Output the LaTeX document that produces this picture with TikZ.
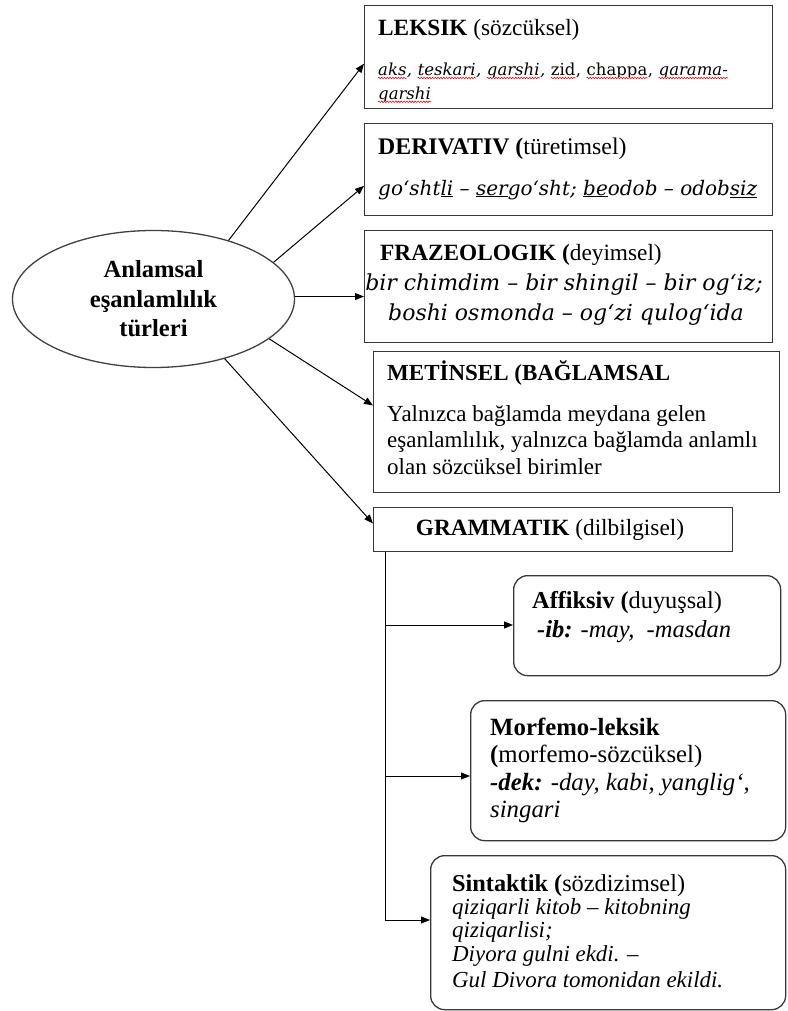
\documentclass[tikz,border=0pt]{standalone}
\usepackage{fontspec}
\setmainfont{Liberation Serif}
\newfontfamily\camb{DejaVu Serif}
\usetikzlibrary{shapes.geometric,arrows.meta,calc,decorations.pathmorphing}
\begin{document}
\begin{tikzpicture}[x=1pt,y=-1pt,
  box/.style={draw=black!78, line width=1.3pt, rectangle, inner sep=0pt, anchor=north west},
  rbox/.style={box, rounded corners=14pt},
  txt/.style={inner sep=0pt, anchor=base west, font=\fontsize{23.3}{27.5}\selectfont},
  sz/.style={font=\fontsize{#1}{27.5}\selectfont},
  cb/.style={inner sep=0pt, anchor=base west, font=\camb\itshape\fontsize{20}{24}\selectfont},
  fb/.style={inner sep=0pt, anchor=base, font=\camb\itshape\fontsize{22}{26}\selectfont},
  lk/.style={inner sep=0pt, anchor=base west, font=\camb\itshape\fontsize{16.5}{20}\selectfont},
  lku/.style={inner sep=0pt, anchor=base west, font=\camb\fontsize{16.5}{20}\selectfont},
  wave/.style={draw=red, line width=0.6pt, decorate, decoration={snake, amplitude=0.7pt, segment length=2.8pt}},
  arr/.style={-{Triangle[length=9pt,width=7pt]}, line width=1pt, black}
]
\useasboundingbox (0,0) rectangle (787,1011);

% ellipse
\node[ellipse, draw=black!75, line width=1.3pt, minimum width=282pt, minimum height=137pt,
      inner sep=0pt, align=center, font=\bfseries\fontsize{24.6}{29.5}\selectfont] (e) at (153.5,299)
      {Anlamsal\\eşanlamlılık\\türleri};

% boxes
\node[box, minimum width=408pt, minimum height=103pt] (leks) at (364,5) {};
\node[box, minimum width=408pt, minimum height=92pt] (deri) at (364,123) {};
\node[box, minimum width=408pt, minimum height=112pt] (fraz) at (364,230) {};
\node[box, minimum width=406pt, minimum height=141pt] (met) at (373,351) {};
\node[box, minimum width=359pt, minimum height=44pt] (gram) at (373,507) {};
\node[rbox, minimum width=267pt, minimum height=100pt] (aff) at (513,575) {};
\node[rbox, minimum width=315pt, minimum height=140pt] (morf) at (470,700) {};
\node[rbox, minimum width=355pt, minimum height=154pt] (sint) at (430,855) {};

% LEKSIK
\node[txt] (l0) at (378,36) {\textbf{LEKSIK} (sözcüksel)};
\begin{scope}
\clip (364,40) rectangle (772,77);
\node[lk] (w1) at (378,76) {aks};
\node[lk] (c1) at (w1.base east) {,\kern0.318em};
\node[lk] (w2) at (c1.base east) {teskari};
\node[lk] (c2) at (w2.base east) {,\kern0.318em};
\node[lk] (w3) at (c2.base east) {qarshi};
\node[lk] (c3) at (w3.base east) {,\kern0.318em};
\node[lku] (w4) at (c3.base east) {zid};
\node[lku] (c4) at (w4.base east) {,\kern0.318em};
\node[lku] (w5) at (c4.base east) {chappa};
\node[lku] (c5) at (w5.base east) {,\kern0.318em};
\node[lk] (w6) at (c5.base east) {qarama-};
\end{scope}
\begin{scope}
\clip (364,80) rectangle (772,100.5);
\node[lk] (w7) at (378,100) {qarshi};
\end{scope}
\foreach \w in {w1,w2,w3,w4,w5,w6}{
  \draw[wave] ([yshift=-2pt]\w.base west) -- ([yshift=-2pt]\w.base east);
}
\draw[wave] ([yshift=-1.8pt]w7.base west) -- ([yshift=-1.8pt]w7.base east);

% DERIVATIV
\node[txt, sz=23.8] (d1) at (378,155) {\textbf{DERIVATIV (}türetimsel)};
\node[cb] (d2) at (378,195) {go‘sht\underline{li} – \underline{ser}go‘sht; \underline{be}odob – odob\underline{siz}};

% FRAZEOLOGIK
\node[txt] (f1) at (380,260) {\textbf{FRAZEOLOGIK (}deyimsel)};
\node[fb] (f2) at (564,290) {bir chimdim – bir shingil – bir og‘iz;};
\node[fb] (f3) at (566,320) {boshi osmonda – og‘zi qulog‘ida};

% METINSEL
\node[txt, sz=23] (m1) at (387,380) {\textbf{METİNSEL (BAĞLAMSAL}};
\node[txt, sz=23] (m2) at (387,421) {Yalnızca bağlamda meydana gelen};
\node[txt, sz=23] (m3) at (387,447.5) {eşanlamlılık, yalnızca bağlamda anlamlı};
\node[txt, sz=23] (m4) at (387,474) {olan sözcüksel birimler};

% GRAMMATIK
\node[txt, anchor=base] (g1) at (550,535) {\textbf{GRAMMATIK} (dilbilgisel)};

% Affiksiv
\node[txt, sz=24.3] (a1) at (532,608) {\textbf{Affiksiv (}duyuşsal)};
\node[txt, sz=24.5] (a2) at (537,637) {\textit{\textbf{-ib:} -may,\ \ -masdan}};

% Morfemo
\node[txt, sz=24.8] (o1) at (490,735) {\textbf{Morfemo-leksik}};
\node[txt, sz=24.8] (o2) at (490,762) {\textbf{(}morfemo-sözcüksel)};
\node[txt, sz=24.8] (o3) at (490,790) {\textit{\textbf{-dek:} -day, kabi, yanglig‘,}};
\node[txt, sz=24.8] (o4) at (490,817) {\textit{singari}};

% Sintaktik
\node[txt, sz=24.3] (s1) at (452,891) {\textbf{Sintaktik (}sözdizimsel)};
\node[txt, sz=22.9] (s2) at (452,914) {\textit{qiziqarli kitob – kitobning}};
\node[txt, sz=22.9] (s3) at (452,937) {\textit{qiziqarlisi;}};
\node[txt, sz=22.9] (s4) at (452,961) {\textit{Diyora gulni ekdi. –}};
\node[txt, sz=22.9] (s5) at (452,987) {\textit{Gul Divora tomonidan ekildi.}};

% connectors from ellipse
\draw[arr] (e.38.6) -- ($(leks.north west)!0.563!(leks.south west)$);
\draw[arr] (e.17) -- ($(deri.north west)!0.674!(deri.south west)$);
\draw[arr] (e.1.6) -- (e.1.6 -| fraz.west);
\draw[arr] (e.-19.6) -- ($(met.north west)!0.383!(met.south west)$);
\draw[arr] (e.-40.4) -- ($(gram.north west)!0.364!(gram.south west)$);

% tree under GRAMMATIK
\coordinate (tb) at (385,920);
\coordinate (ta) at (385,625);
\coordinate (tm) at (385,776);
\draw[arr] (gram.south -| tb) -- (tb) -- (tb -| sint.west);
\draw[arr] (ta) -- (ta -| aff.west);
\draw[arr] (tm) -- (tm -| morf.west);
\end{tikzpicture}
\end{document}
